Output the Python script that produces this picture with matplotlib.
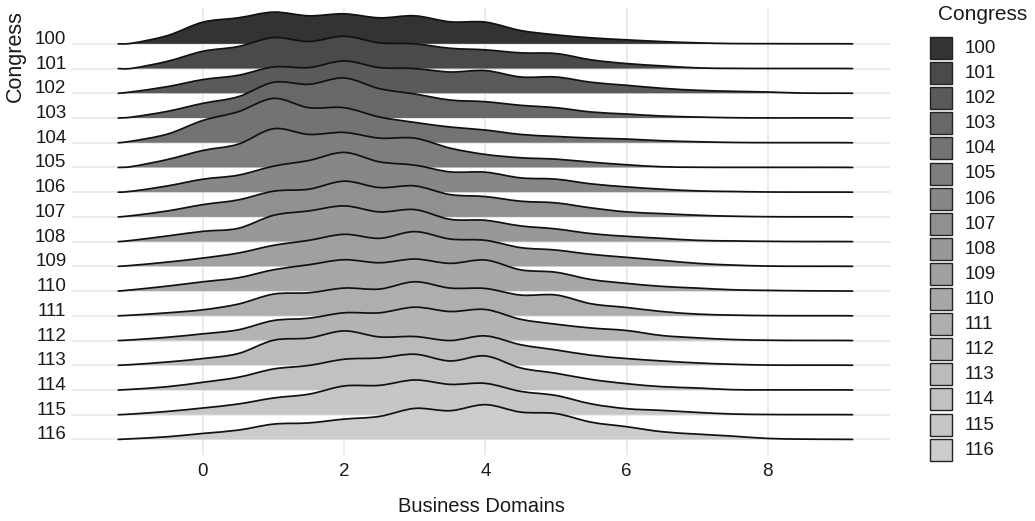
import numpy as np
import matplotlib
matplotlib.use("Agg")
import matplotlib.pyplot as plt
from matplotlib.patches import Rectangle, PathPatch
from matplotlib.path import Path

# ---------------- data ----------------
congress = ["100", "101", "102", "103", "104", "105", "106", "107", "108",
            "109", "110", "111", "112", "113", "114", "115", "116"]

x_grid = [-1.2, -1, -0.5, 0, 0.5, 1, 1.5, 2, 2.5, 3, 3.5, 4, 4.5, 5, 5.5,
          6, 6.5, 7, 7.5, 8, 8.5, 9, 9.2]

# ridge heights (relative density)
h100 = [0, 0.7, 8.3, 21.7, 26, 31.7, 28, 30, 26, 28, 22, 21.7, 13.3, 9, 6, 4, 2.3, 1, 0.3, 0.2, 0.1, 0.1, 0]
h101 = [0, 0.3, 7.3, 17.3, 22, 31, 27, 32.3, 25.7, 24.7, 20.3, 18.7, 15.7, 15, 8.7, 5, 2.7, 0.7, 0.2, 0.1, 0.1, 0.1, 0]
h102 = [0, 1.5, 6.7, 13.7, 18, 26.3, 25.7, 32.3, 25.7, 24.7, 21.3, 22.7, 16.3, 16.3, 11, 8, 5, 3, 2, 1.3, 0.2, 0.1, 0]
h103 = [0, 1, 6.7, 14.7, 21.3, 35.7, 33.7, 40, 29.3, 24, 18, 16.3, 12.7, 10.3, 6, 4, 2, 1, 0.3, 0.1, 0.1, 0.1, 0]
h104 = [0, 1.7, 8.7, 22.3, 31, 44.3, 35, 35, 25.7, 20.3, 15.7, 12.7, 8.3, 6.3, 4.7, 3.7, 2, 1, 0.3, 0.1, 0.1, 0.1, 0]
h105 = [0, 1, 8, 17, 23.3, 38.7, 33, 35, 29.3, 29.3, 19.3, 13, 9.7, 8.3, 5.3, 2.7, 0.7, 0.2, 0.1, 0.1, 0.1, 0.1, 0]
h106 = [0, 1, 6.3, 13, 17, 26, 31.7, 39.7, 30.3, 27, 20.3, 20, 14.3, 13, 8.3, 5.3, 3, 1.3, 0.7, 0.2, 0.1, 0.1, 0]
h107 = [0, 1.3, 6, 12.3, 17, 25.7, 27.7, 35.7, 29.3, 31, 22.3, 20.3, 15.7, 14, 9, 5, 3.3, 1.7, 0.7, 0.2, 0.1, 0.1, 0]
h108 = [0, 1.3, 5.7, 10.3, 13.3, 26.3, 30.7, 35.7, 29.7, 32, 22.3, 21.3, 15.7, 12.7, 8, 5.3, 3.3, 1.3, 0.7, 0.3, 0.1, 0.1, 0]
h109 = [0, 1, 4.3, 8.3, 13.3, 21, 26, 32, 28, 34.7, 27.3, 26, 18.7, 16.3, 12, 9, 6, 3, 1.3, 0.3, 0.1, 0.1, 0]
h110 = [0, 1.3, 5, 9.3, 13.3, 21.3, 26.3, 31.3, 28.3, 32, 27.7, 31, 21.2, 18.8, 11.5, 7.7, 4.7, 3, 1.3, 0.7, 0.3, 0.1, 0]
h111 = [0, 0.7, 3, 6, 11.7, 21.7, 23, 27.7, 26.7, 34, 27.7, 27.3, 20.7, 20.8, 12, 8.3, 4.3, 1.7, 0.7, 0.2, 0.1, 0.1, 0]
h112 = [0, 0.7, 3.3, 6.7, 10.7, 20, 22.3, 27.7, 27.7, 33.3, 29, 31, 21.2, 16.3, 12.5, 10, 5, 2.7, 1, 0.3, 0.1, 0.1, 0]
h113 = [0, 0.7, 3.3, 6.7, 11.7, 25, 27.2, 34.3, 28.3, 28.7, 24.7, 29.3, 20.5, 15.3, 10, 6.7, 4.3, 2.3, 1, 0.2, 0.1, 0.1, 0]
h114 = [0, 0.7, 3.3, 7.7, 12.7, 21, 24.5, 30.7, 32, 35.7, 29, 34, 22, 16.7, 10.5, 6.3, 3.3, 2, 0.3, 0.1, 0.1, 0.1, 0]
h115 = [0, 0.7, 3.3, 6.7, 10.7, 16.7, 20.5, 28.7, 29.3, 34.7, 30.3, 31.3, 23.3, 19.2, 10.8, 6, 4.3, 2.3, 0.7, 0.2, 0.1, 0.1, 0]
h116 = [0, 0.7, 2.7, 6, 9.3, 15.3, 16.5, 20.3, 23, 31, 28.7, 34.7, 27.3, 25.8, 17.2, 12.7, 7.7, 5.3, 3.3, 1, 0.3, 0.1, 0]

heights = [h100, h101, h102, h103, h104, h105, h106, h107, h108,
           h109, h110, h111, h112, h113, h114, h115, h116]

x_ticks = [0, 2, 4, 6, 8]
x_label = "Business Domains"
y_label = "Congress"
legend_title = "Congress"

# ---------------- style ----------------
FONT = "Liberation Sans"
plt.rcParams["font.family"] = [FONT, "DejaVu Sans"]
SCALE = 1 / 24.7          # ridge height units -> row spacing
n = len(congress)
TXT = "#1a1a1a"


def grey(i, start=0.2, end=0.8, gamma=2.2):
    t = i / (n - 1)
    v = (start ** gamma + t * (end ** gamma - start ** gamma)) ** (1 / gamma)
    return (v, v, v)


def smooth_path_parts(xs, ys):
    """Cubic Bezier segments passing through every read point (Catmull-Rom)."""
    pts = np.column_stack([xs, ys])
    verts = [pts[0]]
    codes = [Path.MOVETO]
    m = len(pts)
    for k in range(m - 1):
        p0 = pts[max(k - 1, 0)]
        p1 = pts[k]
        p2 = pts[k + 1]
        p3 = pts[min(k + 2, m - 1)]
        c1 = p1 + (p2 - p0) / 6.0
        c2 = p2 - (p3 - p1) / 6.0
        verts += [c1, c2, p2]
        codes += [Path.CURVE4] * 3
    return verts, codes


W, H = 1035, 521
fig = plt.figure(figsize=(W / 100, H / 100), dpi=100)
ax = fig.add_axes([72 / W, (H - 455) / H, (890 - 72) / W, (455 - 8) / H])

ax.set_xlim(-1.855, 9.73)
ax.set_ylim(-0.63, 17.45)

grid_c = "#e6e6e6"
for xt in x_ticks:
    ax.axvline(xt, color=grid_c, lw=1.1, zorder=0)

x = np.array(x_grid, dtype=float)
ypos = []
for i, (lab, h) in enumerate(zip(congress, heights)):
    base = n - 1 - i
    ypos.append(base)
    ax.axhline(base, color=grid_c, lw=1.1, zorder=0)
    top = base + np.array(h, dtype=float) * SCALE
    z = 2 + i * 2
    verts, codes = smooth_path_parts(x, top)
    fverts = verts + [(x[-1], base), (x[0], base), (x[0], base)]
    fcodes = codes + [Path.LINETO, Path.LINETO, Path.CLOSEPOLY]
    ax.add_patch(PathPatch(Path(fverts, fcodes), facecolor=grey(i),
                           edgecolor="none", zorder=z))
    ax.add_patch(PathPatch(Path(verts, codes), facecolor="none",
                           edgecolor="#111111", lw=1.25, zorder=z + 1,
                           joinstyle="round", capstyle="round"))

ax.set_xticks(x_ticks)
ax.set_xticklabels([str(t) for t in x_ticks])
ax.set_yticks(ypos)
ax.set_yticklabels(congress)
for lbl in ax.get_yticklabels():
    lbl.set_va("baseline")
ax.tick_params(axis="both", length=0, labelsize=13.5, colors=TXT)
ax.tick_params(axis="y", pad=4)
ax.tick_params(axis="x", pad=6)
for s in ax.spines.values():
    s.set_visible(False)

ax.set_xlabel(x_label, fontsize=14.5, color=TXT, labelpad=12)

# overlay for titles / legend in pixel coordinates
ov = fig.add_axes([0, 0, 1, 1], facecolor="none")
ov.set_xlim(0, W)
ov.set_ylim(H, 0)
ov.axis("off")
ov.text(15, 56, y_label, rotation=90, ha="center", va="center",
        fontsize=15.5, color=TXT)
ov.text(983, 15, legend_title, ha="center", va="center",
        fontsize=15, color=TXT)
for i, lab in enumerate(congress):
    yk = 37 + i * 25.1
    ov.add_patch(Rectangle((930, yk), 22, 22, facecolor=grey(i),
                           edgecolor="#222222", lw=1.0))
    ov.text(965, yk + 11.5, lab, ha="left", va="center",
            fontsize=13.5, color=TXT)

fig.savefig("out.png", dpi=100)
